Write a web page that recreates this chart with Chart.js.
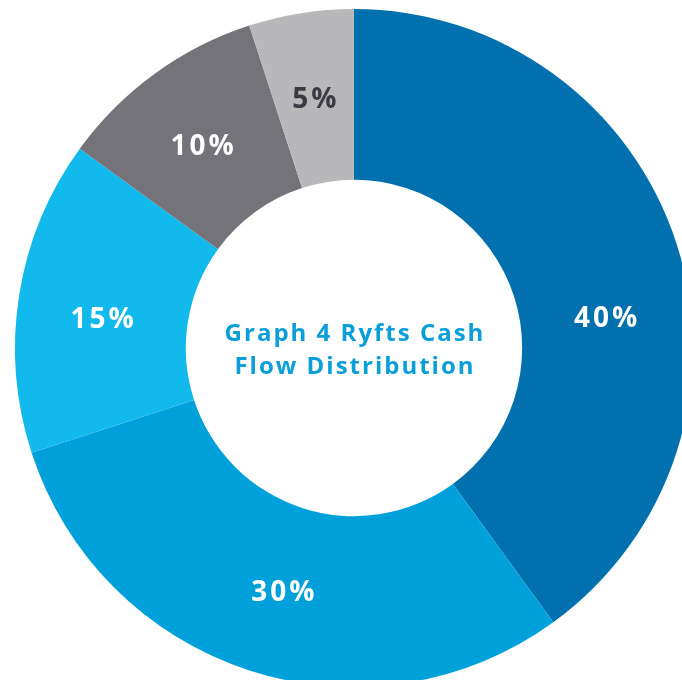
<!DOCTYPE html>
<html>
<head>
<meta charset="utf-8">
<title>Graph 4 Ryfts Cash Flow Distribution</title>
<script src="https://cdn.jsdelivr.net/npm/chart.js@4/dist/chart.umd.min.js"></script>
<style>
  html, body { margin: 0; padding: 0; background: #fff; overflow: hidden; }
  #wrap { position: relative; width: 682px; height: 680px; overflow: hidden; }
  #chart { position: absolute; left: 0; top: 0; }
</style>
</head>
<body>
<div id="wrap">
  <canvas id="chart" width="708" height="696"></canvas>
</div>
<script>
const labels = ["40%", "30%", "15%", "10%", "5%"];
const shares = [40, 30, 15, 10, 5];
const colors = ["#0071ae", "#00a1db", "#12b9ec", "#737379", "#b8b8bb"];
const labelColors = ["#ffffff", "#ffffff", "#ffffff", "#ffffff", "#3b3b45"];
const centerLines = ["Graph 4 Ryfts Cash", "Flow Distribution"];

const sliceLabels = {
  id: "sliceLabels",
  afterDatasetsDraw(chart, args, opts) {
    const ctx = chart.ctx;
    const meta = chart.getDatasetMeta(0);
    ctx.save();
    ctx.textAlign = "center";
    ctx.textBaseline = "alphabetic";

    ctx.font = "bold 28px 'Open Sans'";
    ctx.letterSpacing = "3px";
    meta.data.forEach((arc, i) => {
      const p = arc.getProps(["x", "y", "startAngle", "endAngle", "innerRadius", "outerRadius"], true);
      const shift = (opts.shift[i] || 0) * Math.PI / 180;
      const mid = (p.startAngle + p.endAngle) / 2 + shift;
      const r = (p.innerRadius + p.outerRadius) / 2;
      ctx.fillStyle = labelColors[i];
      ctx.fillText(labels[i], p.x + Math.cos(mid) * r + 1.5, p.y + Math.sin(mid) * r + 10);
    });

    // centre title
    const cx = meta.data[0].x, cy = meta.data[0].y;
    ctx.font = "bold 24px 'Open Sans'";
    ctx.letterSpacing = "2px";
    ctx.fillStyle = "#0a9fda";
    ctx.fillText(centerLines[0], cx + 1, cy - 7);
    ctx.fillText(centerLines[1], cx + 1, cy + 26);
    ctx.restore();
  }
};

new Chart(document.getElementById("chart"), {
  type: "doughnut",
  data: {
    labels: labels,
    datasets: [{
      data: shares,
      backgroundColor: colors,
      borderWidth: 0,
      hoverOffset: 0,
      offset: 0,
      spacing: 0
    }]
  },
  options: {
    responsive: false,
    animation: false,
    devicePixelRatio: 1,
    cutout: "49.6%",
    layout: { padding: 9 },
    events: [],
    plugins: {
      legend: { display: false },
      tooltip: { enabled: false },
      title: { display: false },
      sliceLabels: { shift: [11, -1.7, -2.2, -0.8, 0] }
    }
  },
  plugins: [sliceLabels]
});
</script>
</body>
</html>
